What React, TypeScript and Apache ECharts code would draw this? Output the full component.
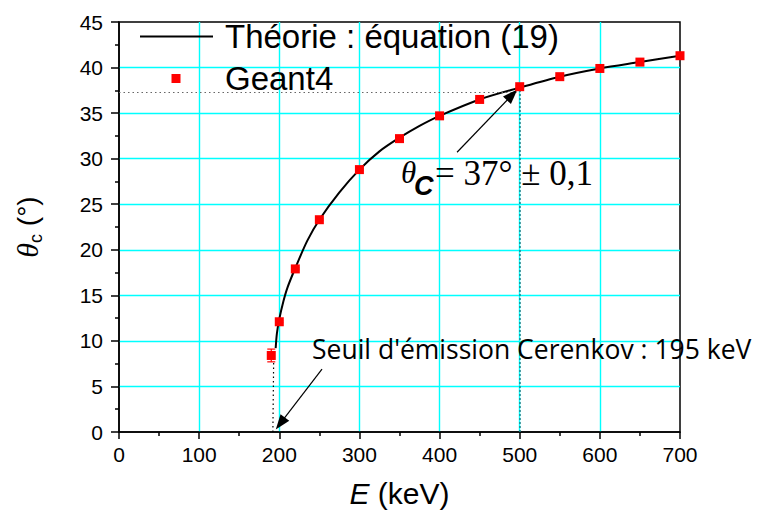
import React, { useEffect, useRef } from "react";
import * as echarts from "echarts";

// Geant4 simulated Cerenkov angle (degrees) vs electron kinetic energy (keV)
const xGeant = [190, 200, 220, 250, 300, 350, 400, 450, 500, 550, 600, 650, 700];
const yGeant = [8.4, 12.1, 17.9, 23.3, 28.8, 32.2, 34.7, 36.5, 37.9, 39.0, 39.9, 40.6, 41.3];
const errGeant = [0.7, 0.1, 0.1, 0.1, 0.1, 0.1, 0.1, 0.1, 0.1, 0.1, 0.1, 0.1, 0.1];

// Theory curve, equation (19)
const xTheory = [195.5, 197, 200, 205, 210, 220, 235, 250, 275, 300, 325, 350, 375, 400, 450, 500, 550, 600, 650, 700];
const yTheory = [9.2, 10.8, 12.4, 14.3, 15.8, 18.0, 21.0, 23.3, 26.3, 28.8, 30.8, 32.3, 33.6, 34.7, 36.5, 37.8, 39.0, 39.9, 40.6, 41.3];

// Annotation lines in data coordinates
const guideH = [[0, 37.3], [500, 37.3]];
const guideV500 = [[500, 0], [500, 37.9]];
const guideThreshold = [[192, 0], [193, 8]];
const arrowTheta = [[421.8, 30.7], [490.6, 37.0]];
const arrowThreshold = [[253.3, 6.9], [201.3, 0.94]];

const theoryName = "Théorie : équation (19)";
const geantName = "Geant4";
const thresholdText = "Seuil d'émission Cerenkov : 195 keV";

export default function App() {
  const ref = useRef<HTMLDivElement>(null);
  useEffect(() => {
    if (!ref.current) return;
    const chart = echarts.init(ref.current, null, { renderer: "svg" });
    const axisFont = "Liberation Sans, Arial, sans-serif";
    const option: any = {
      animation: false,
      backgroundColor: "#ffffff",
      grid: {
        left: 119,
        right: 78,
        top: 22,
        bottom: 86,
        show: true,
        borderColor: "#000",
        borderWidth: 1.5,
        backgroundColor: "transparent",
      },
      legend: {
        orient: "vertical",
        left: 135,
        top: 15,
        itemWidth: 80,
        itemHeight: 9,
        itemGap: 9,
        symbolKeepAspect: false,
        textStyle: { fontSize: 33, fontFamily: axisFont, color: "#000" },
        data: [
          { name: theoryName, icon: "path://M0,0M80,9M0,3.5h73v2h-73z", itemStyle: { color: "#000" } },
          { name: geantName, icon: "path://M0,0M80,9M31.5,0h9v9h-9z", itemStyle: { color: "#ff0000", opacity: 1 } },
        ],
      },
      xAxis: {
        type: "value",
        min: 0,
        max: 700,
        interval: 100,
        name: "{i|E}{n| (keV)}",
        nameLocation: "middle",
        nameGap: 46,
        nameTextStyle: {
          fontSize: 30,
          fontFamily: axisFont,
          color: "#000",
          rich: {
            i: { fontSize: 30, fontStyle: "italic", fontFamily: axisFont, color: "#000" },
            n: { fontSize: 30, fontFamily: axisFont, color: "#000" },
          },
        },
        axisLine: { show: true, onZero: false, lineStyle: { color: "#000", width: 1.5 } },
        axisTick: { show: true, length: 7, lineStyle: { color: "#000", width: 1.5 } },
        minorTick: { show: true, splitNumber: 2, length: 4, lineStyle: { color: "#000", width: 1.5 } },
        axisLabel: { fontSize: 21, fontFamily: axisFont, color: "#000", margin: 12 },
        splitLine: { show: true, showMinLine: false, showMaxLine: false, lineStyle: { color: "#00ffff", width: 1.4 } },
      },
      yAxis: {
        type: "value",
        min: 0,
        max: 45,
        interval: 5,
        name: "{t|θ}{s|c}{n| (°)}",
        nameLocation: "middle",
        nameRotate: 90,
        nameGap: 74,
        nameTextStyle: {
          fontSize: 28,
          fontFamily: axisFont,
          color: "#000",
          rich: {
            t: { fontSize: 30, fontStyle: "italic", fontFamily: "Liberation Serif, serif", color: "#000", lineHeight: 36 },
            s: { fontSize: 18, fontFamily: axisFont, color: "#000", lineHeight: 18, verticalAlign: "bottom" },
            n: { fontSize: 28, fontFamily: axisFont, color: "#000", lineHeight: 36 },
          },
        },
        axisLine: { show: true, onZero: false, lineStyle: { color: "#000", width: 1.5 } },
        axisTick: { show: true, length: 8, lineStyle: { color: "#000", width: 1.5 } },
        minorTick: { show: true, splitNumber: 2, length: 4, lineStyle: { color: "#000", width: 1.5 } },
        axisLabel: { fontSize: 21, fontFamily: axisFont, color: "#000", margin: 16 },
        splitLine: { show: true, showMinLine: false, showMaxLine: false, lineStyle: { color: "#00ffff", width: 1.4 } },
      },
      series: [
        {
          name: theoryName,
          type: "line",
          data: xTheory.map((x, i) => [x, yTheory[i]]),
          symbol: "none",
          smooth: 0.3,
          lineStyle: { color: "#000", width: 2 },
          itemStyle: { color: "#000" },
          z: 3,
          markLine: {
            silent: true,
            animation: false,
            symbol: ["none", "none"],
            label: { show: false },
            emphasis: { disabled: true },
            data: [
              [
                { coord: guideH[0], lineStyle: { color: "#666", width: 1.2, type: [1.5, 3] } },
                { coord: guideH[1] },
              ],
              [
                { coord: guideV500[0], lineStyle: { color: "#1f7f86", width: 1.5, type: [2, 2] } },
                { coord: guideV500[1] },
              ],
              [
                { coord: guideThreshold[0], lineStyle: { color: "#000", width: 1.2, type: [1.5, 3] } },
                { coord: guideThreshold[1] },
              ],
              [
                { coord: arrowTheta[0], symbol: "none", lineStyle: { color: "#000", width: 1.2, type: "solid" } },
                { coord: arrowTheta[1], symbol: "triangle", symbolSize: [11, 15] },
              ],
              [
                { coord: arrowThreshold[0], symbol: "none", lineStyle: { color: "#000", width: 1.2, type: "solid" } },
                { coord: arrowThreshold[1], symbol: "triangle", symbolSize: [11, 15] },
              ],
            ],
          },
        },
        {
          name: "err",
          type: "custom",
          z: 4,
          data: xGeant.map((x, i) => [x, yGeant[i], errGeant[i]]),
          renderItem: (params: any, api: any) => {
            const x = api.value(0);
            const y = api.value(1);
            const e = api.value(2);
            const top = api.coord([x, y + e]);
            const bot = api.coord([x, y - e]);
            const st = { stroke: "#ff0000", lineWidth: 1.2 };
            return {
              type: "group",
              children: [
                { type: "line", shape: { x1: top[0], y1: top[1], x2: bot[0], y2: bot[1] }, style: st },
                { type: "line", shape: { x1: top[0] - 4, y1: top[1], x2: top[0] + 4, y2: top[1] }, style: st },
                { type: "line", shape: { x1: bot[0] - 4, y1: bot[1], x2: bot[0] + 4, y2: bot[1] }, style: st },
              ],
            };
          },
        },
        {
          name: geantName,
          type: "scatter",
          data: xGeant.map((x, i) => [x, yGeant[i]]),
          symbol: "rect",
          symbolSize: 9,
          itemStyle: { color: "#ff0000", opacity: 1 },
          z: 5,
        },
      ],
      graphic: [
        {
          type: "text",
          x: 312,
          y: 349,
          z: 10,
          style: { text: thresholdText, fontSize: 26.5, fontFamily: "Open Sans, sans-serif", fill: "#000", verticalAlign: "middle" },
        },
        {
          type: "text",
          x: 401,
          y: 172,
          z: 10,
          style: { text: "θ", fontSize: 31, fontStyle: "italic", fontFamily: "Liberation Serif, serif", fill: "#000", verticalAlign: "middle" },
        },
        {
          type: "text",
          x: 414,
          y: 186,
          z: 10,
          style: { text: "C", fontSize: 27, fontStyle: "italic", fontWeight: "bold", fontFamily: "Liberation Sans, sans-serif", fill: "#000", verticalAlign: "middle" },
        },
        {
          type: "text",
          x: 435,
          y: 173,
          z: 10,
          style: { text: "= 37° ± 0,1", fontSize: 35, fontFamily: "Liberation Serif, serif", fill: "#000", verticalAlign: "middle" },
        },
      ],
    };
    chart.setOption(option);
    return () => chart.dispose();
  }, []);
  return <div ref={ref} style={{ position: "fixed", left: 0, top: 0, width: 758, height: 518 }} />;
}
